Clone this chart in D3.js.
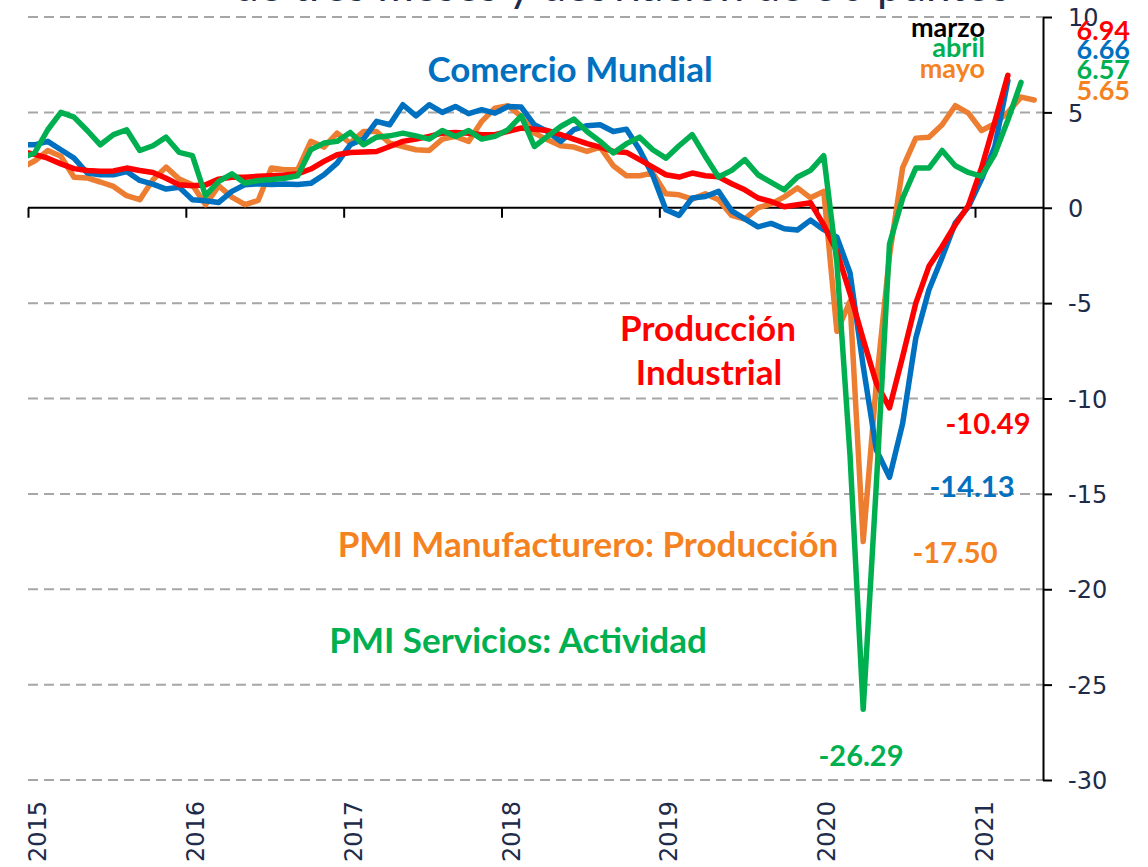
<!DOCTYPE html>
<html>
<head>
<meta charset="utf-8">
<script src="https://cdn.jsdelivr.net/npm/d3@7"></script>
<style>
  body { margin: 0; background: #fff; }
  svg { display: block; }
  .tick text { font-family: "DejaVu Sans", sans-serif; fill: #1e2b4a; }
  .lbl { font-family: Lato, "Open Sans", sans-serif; font-weight: 700; }
</style>
</head>
<body>
<svg id="chart" width="1148" height="867"></svg>
<script>
// monthly values, first value = Dec 2014 (month index -1)
const firstMonth = -1;
const years = ["2015", "2016", "2017", "2018", "2019", "2020", "2021"];
const yTicks = [10, 5, 0, -5, -10, -15, -20, -25, -30];

const comercioMundial = [
  3.3, 3.30, 3.48, 3.04, 2.60, 1.82, 1.73, 1.73, 1.90, 1.43, 1.24, 0.98, 1.07,
  0.42, 0.37, 0.28, 0.86, 1.21, 1.26, 1.22, 1.24, 1.22, 1.28, 1.73, 2.34,
  3.30, 3.60, 4.53, 4.35, 5.40, 4.82, 5.40, 5.00, 5.31, 4.93, 5.14, 4.96,
  5.31, 5.28, 4.35, 4.00, 3.48, 4.09, 4.30, 4.35, 4.00, 4.12, 3.04, 1.70,
  -0.10, -0.40, 0.51, 0.59, 0.86, -0.16, -0.58, -1.00, -0.82, -1.10, -1.17, -0.65,
  -1.15, -1.54, -3.42, -8.3, -12.7, -14.13, -11.3, -6.83, -4.30, -2.6, -0.8, 0.05,
  1.5, 3.2, 6.66
];
const produccionIndustrial = [
  2.95, 2.80, 2.60, 2.30, 2.05, 1.95, 1.92, 1.93, 2.08, 1.95, 1.85, 1.55, 1.20,
  1.15, 1.20, 1.50, 1.60, 1.60, 1.65, 1.68, 1.72, 1.78, 2.03, 2.43, 2.78,
  2.90, 2.92, 2.95, 3.21, 3.48, 3.60, 3.74, 3.91, 3.95, 3.91, 3.83, 3.83,
  4.00, 4.18, 4.12, 4.05, 3.83, 3.60, 3.36, 3.18, 2.95, 2.90, 2.52, 2.13,
  1.73, 1.61, 1.82, 1.68, 1.62, 1.26, 0.94, 0.51, 0.33, 0.05, 0.16, 0.26,
  -0.9, -2.3, -4.5, -6.9, -9.2, -10.49, -7.8, -5.0, -3.07, -2.03, -0.89, 0.12,
  2.1, 4.5, 6.94
];
const pmiManufacturas = [
  2.10, 2.45, 3.00, 2.70, 1.60, 1.56, 1.35, 1.12, 0.63, 0.42, 1.47, 2.13, 1.50,
  1.20, 0.16, 1.15, 0.56, 0.16, 0.38, 2.08, 1.99, 1.99, 3.48, 3.18, 3.91,
  3.39, 4.00, 4.00, 3.39, 3.21, 3.04, 3.00, 3.60, 3.74, 3.48, 4.53, 5.22,
  5.35, 4.79, 3.91, 3.56, 3.25, 3.18, 2.95, 3.18, 2.20, 1.68, 1.68, 1.82,
  0.73, 0.68, 0.45, 0.73, 0.42, -0.40, -0.60, 0.00, 0.20, 0.57, 1.04, 0.52,
  0.86, -6.48, -4.91, -17.50, -9.2, -2.5, 2.1, 3.65, 3.70, 4.35, 5.35, 4.96,
  4.05, 4.4, 5.0, 5.80, 5.65
];
const pmiServicios = [
  2.60, 2.87, 4.09, 5.00, 4.75, 4.05, 3.30, 3.83, 4.09, 3.00, 3.25, 3.70, 2.90,
  2.73, 0.63, 1.38, 1.78, 1.29, 1.43, 1.48, 1.55, 1.68, 3.04, 3.39, 3.48,
  3.95, 3.30, 3.70, 3.77, 3.91, 3.77, 3.60, 4.05, 3.74, 4.05, 3.60, 3.74,
  4.09, 4.82, 3.21, 3.74, 4.26, 4.65, 4.00, 3.48, 2.87, 3.36, 3.70, 3.04,
  2.60, 3.25, 3.83, 2.69, 1.61, 1.96, 2.52, 1.73, 1.33, 0.94, 1.61, 1.96,
  2.73, -2.9, -13.0, -26.29, -14.5, -1.9, 0.5, 2.08, 2.08, 3.0, 2.2, 1.85,
  1.64, 2.8, 4.6, 6.57
];

const series = [
  { name: "pmiManufacturas", values: pmiManufacturas, color: "#ED7D31" },
  { name: "comercioMundial", values: comercioMundial, color: "#0070C0" },
  { name: "produccionIndustrial", values: produccionIndustrial, color: "#FF0000" },
  { name: "pmiServicios", values: pmiServicios, color: "#00B050" }
];

const plotLeft = 28, plotRight = 1043, plotTop = 17, plotBottom = 780;

const svg = d3.select("#chart");

// month index scale: 0 = Jan 2015, ticks on each January
const x = d3.scaleLinear().domain([0, 72]).range([plotLeft, 975]);
const y = d3.scaleLinear().domain([-30, 10]).range([plotBottom, plotTop]);

// title, cut off by the top edge as in the original
svg.append("text")
    .attr("x", 622)
    .attr("y", 1)
    .attr("text-anchor", "middle")
    .attr("font-family", "Lato, sans-serif")
    .attr("font-size", 44)
    .attr("fill", "#1e2b4a")
    .text("de tres meses y desviación de 50 puntos");

// dashed gridlines
svg.append("g")
    .selectAll("line")
    .data(yTicks.filter(d => d !== 0))
    .enter().append("line")
    .attr("x1", plotLeft).attr("x2", plotRight)
    .attr("y1", d => y(d)).attr("y2", d => y(d))
    .attr("stroke", "#a6a6a6")
    .attr("stroke-width", 2)
    .attr("stroke-dasharray", "10,6");

// x axis on zero line
const xAxis = d3.axisBottom(x)
    .tickValues(d3.range(0, 73, 12))
    .tickSize(10)
    .tickSizeOuter(0)
    .tickFormat("");
const gx = svg.append("g")
    .attr("transform", "translate(0," + y(0) + ")")
    .call(xAxis);
gx.select(".domain").attr("d", "M" + plotLeft + ",0H" + plotRight).attr("stroke", "#000").attr("stroke-width", 2);
gx.selectAll(".tick line").attr("stroke", "#000").attr("stroke-width", 2);

// year labels, rotated
svg.append("g")
    .selectAll("text")
    .data(years)
    .enter().append("text")
    .attr("transform", (d, i) => "translate(" + (x(i * 12) + 18) + ",862) rotate(-90)")
    .attr("font-family", "DejaVu Sans, sans-serif")
    .attr("font-size", 24)
    .attr("fill", "#1e2b4a")
    .text(d => d);

// right y axis (plain hyphen for negatives)
const yAxis = d3.axisRight(y)
    .tickValues(yTicks)
    .tickSize(9)
    .tickSizeOuter(0)
    .tickPadding(16)
    .tickFormat(d => String(d));
const gy = svg.append("g")
    .attr("transform", "translate(" + plotRight + ",0)")
    .call(yAxis);
gy.select(".domain").attr("stroke", "#000").attr("stroke-width", 2);
gy.selectAll(".tick line").attr("stroke", "#000").attr("stroke-width", 2);
gy.selectAll(".tick text").attr("font-size", 24).attr("dy", "0.36em");

// lines, clipped at the start of 2015
svg.append("clipPath").attr("id", "plotclip")
    .append("rect").attr("x", plotLeft).attr("y", 0).attr("width", 1148 - plotLeft).attr("height", 867);

const line = d3.line()
    .x((d, i) => x(firstMonth + i + 0.5))
    .y(d => y(d));

svg.append("g")
    .attr("clip-path", "url(#plotclip)")
    .selectAll("path")
    .data(series)
    .enter().append("path")
    .attr("d", d => line(d.values))
    .attr("fill", "none")
    .attr("stroke", d => d.color)
    .attr("stroke-width", 5.5)
    .attr("stroke-linejoin", "round")
    .attr("stroke-linecap", "round");

// labels
const labels = [
  { t: "Comercio Mundial", x: 570, y: 82, size: 35, c: "#0070C0", a: "middle" },
  { t: "Producción", x: 708, y: 341, size: 35, c: "#FF0000", a: "middle" },
  { t: "Industrial", x: 709, y: 385, size: 35, c: "#FF0000", a: "middle" },
  { t: "PMI Manufacturero: Producción", x: 588, y: 557, size: 35, c: "#F58220", a: "middle" },
  { t: "PMI Servicios: Actividad", x: 518, y: 653, size: 35, c: "#00B050", a: "middle" },
  { t: "-10.49", x: 988, y: 434, size: 29, c: "#FF0000", a: "middle" },
  { t: "-14.13", x: 972, y: 497, size: 29, c: "#0070C0", a: "middle" },
  { t: "-17.50", x: 955, y: 563, size: 29, c: "#F58220", a: "middle" },
  { t: "-26.29", x: 861, y: 766, size: 29, c: "#00B050", a: "middle" },
  { t: "marzo", x: 985, y: 37, size: 27, c: "#000000", a: "end" },
  { t: "abril", x: 985, y: 57, size: 27, c: "#00B050", a: "end" },
  { t: "mayo", x: 985, y: 78, size: 27, c: "#F58220", a: "end" },
  { t: "6.94", x: 1130, y: 40, size: 27, c: "#FF0000", a: "end" },
  { t: "6.66", x: 1130, y: 59, size: 27, c: "#0070C0", a: "end" },
  { t: "6.57", x: 1130, y: 79, size: 27, c: "#00B050", a: "end" },
  { t: "5.65", x: 1130, y: 100, size: 27, c: "#F58220", a: "end" }
];

svg.append("g")
    .selectAll("text")
    .data(labels)
    .enter().append("text")
    .attr("class", "lbl")
    .attr("x", d => d.x)
    .attr("y", d => d.y)
    .attr("font-size", d => d.size)
    .attr("fill", d => d.c)
    .attr("text-anchor", d => d.a)
    .text(d => d.t);
</script>
</body>
</html>
